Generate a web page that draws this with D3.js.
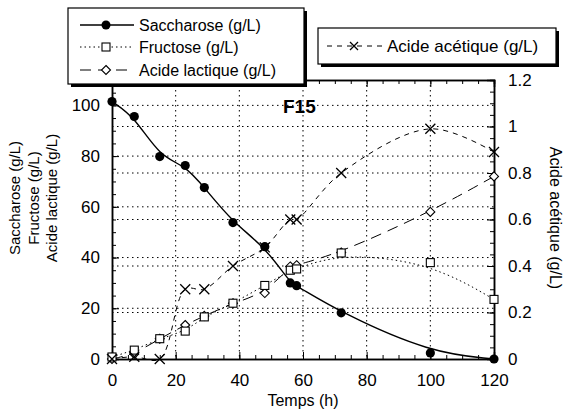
<!DOCTYPE html>
<html><head><meta charset="utf-8">
<script src="https://cdn.jsdelivr.net/npm/d3@7"></script>
<style>body{margin:0;background:#fff}svg{font-family:"Liberation Sans",Arial,sans-serif}</style>
</head><body>
<svg id="c" width="571" height="410"></svg>
<script>
const time = [0,7,15,23,29,38,48,56,58,72,100,120];
const saccharose = [101.5,95.6,79.8,76.3,67.6,53.8,44.3,30,28.9,18.2,2.4,0];
const fructose = [0.8,3.5,8,11,16.6,22,29,35,35.5,41.8,38,23.5];
const lactique = [0,2,8,13.4,17,22,26,36.5,37,42,58,72];
const acetique = [0,0.01,0,0.3,0.3,0.4,0.48,0.6,0.6,0.8,0.99,0.89];
const xTicks = [0,20,40,60,80,100,120];
const yLTicks = [0,20,40,60,80,100];
const yRTicks = [0,0.2,0.4,0.6,0.8,1,1.2];

const svg = d3.select("#c");
const L=112,R=494,T=80,B=359;
const x = d3.scaleLinear().domain([0,120]).range([L,R]);
const yL = d3.scaleLinear().domain([0,110]).range([B,T]);
const yR = d3.scaleLinear().domain([0,1.2]).range([B,T]);

// grid
const g = svg.append("g").attr("stroke","#000").attr("stroke-width",1).attr("stroke-dasharray","1.5,3.5");
xTicks.filter(d=>d>0&&d<120).forEach(d=>g.append("line").attr("x1",x(d)).attr("x2",x(d)).attr("y1",T).attr("y2",B));
yLTicks.filter(d=>d>0).forEach(d=>g.append("line").attr("x1",L).attr("x2",R).attr("y1",yL(d)).attr("y2",yL(d)));
yRTicks.filter(d=>d>0&&d<1.2).forEach(d=>g.append("line").attr("x1",L).attr("x2",R).attr("y1",yR(d)).attr("y2",yR(d)));

// axes
const fs = "17px";
svg.append("g").attr("transform",`translate(0,${B})`).call(d3.axisBottom(x).tickValues(xTicks).tickSize(-7).tickPadding(15));
svg.append("g").attr("transform",`translate(0,${B})`).call(d3.axisBottom(x).tickValues(d3.range(0,121,5)).tickSize(-4).tickFormat(""));
svg.append("g").attr("transform",`translate(0,${T})`).call(d3.axisTop(x).tickValues(xTicks).tickSize(-7).tickFormat(""));
svg.append("g").attr("transform",`translate(0,${T})`).call(d3.axisTop(x).tickValues(d3.range(0,121,5)).tickSize(-4).tickFormat(""));
svg.append("g").attr("transform",`translate(${L},0)`).call(d3.axisLeft(yL).tickValues(yLTicks).tickSize(-7).tickPadding(12));
svg.append("g").attr("transform",`translate(${L},0)`).call(d3.axisLeft(yL).tickValues(d3.range(0,111,5)).tickSize(-4).tickFormat(""));
svg.append("g").attr("transform",`translate(${R},0)`).call(d3.axisRight(yR).tickValues(yRTicks).tickSize(-7).tickPadding(14).tickFormat(d=>d3.format("")(+d.toFixed(1))));
svg.append("g").attr("transform",`translate(${R},0)`).call(d3.axisRight(yR).tickValues(d3.range(0,1.21,0.05)).tickSize(-4).tickFormat(""));
svg.selectAll(".tick text").attr("font-size",fs).attr("font-family","Liberation Sans, Arial, sans-serif").attr("fill","#000");
svg.selectAll(".domain").attr("stroke","#000").attr("stroke-width",1.5);
svg.selectAll(".tick line").attr("stroke","#000");

// lines
function series(vals, sc){ return time.map((t,i)=>[x(t), sc(vals[i])]); }
const smooth = d3.line().curve(d3.curveBasis);
const thru = d3.line().curve(d3.curveCatmullRom.alpha(0.5));
svg.append("path").attr("d",thru(series(acetique,yR))).attr("fill","none").attr("stroke","#000").attr("stroke-width",1).attr("stroke-dasharray","5,5");
svg.append("path").attr("d",smooth(series(lactique,yL))).attr("fill","none").attr("stroke","#000").attr("stroke-width",1).attr("stroke-dasharray","11,7");
svg.append("path").attr("d",smooth(series(fructose,yL))).attr("fill","none").attr("stroke","#000").attr("stroke-width",1).attr("stroke-dasharray","1.5,3");
svg.append("path").attr("d",smooth(series(saccharose,yL))).attr("fill","none").attr("stroke","#000").attr("stroke-width",1.4);

// markers
function cross(sel,px,py,s){ sel.append("path").attr("d",`M${px-s},${py-s}L${px+s},${py+s}M${px-s},${py+s}L${px+s},${py-s}`).attr("stroke","#000").attr("stroke-width",1.3).attr("fill","none"); }
function square(sel,px,py,s){ sel.append("rect").attr("x",px-s).attr("y",py-s).attr("width",2*s).attr("height",2*s).attr("fill","#fff").attr("stroke","#000").attr("stroke-width",1.1); }
function diamond(sel,px,py,s){ sel.append("path").attr("d",`M${px},${py-s}L${px+s},${py}L${px},${py+s}L${px-s},${py}Z`).attr("fill","#fff").attr("stroke","#000").attr("stroke-width",1.1); }
const m = svg.append("g");
series(lactique,yL).forEach(p=>diamond(m,p[0],p[1],4.5));
series(fructose,yL).forEach(p=>square(m,p[0],p[1],4));
series(acetique,yR).forEach(p=>cross(m,p[0],p[1],5));
series(saccharose,yL).forEach(p=>m.append("circle").attr("cx",p[0]).attr("cy",p[1]).attr("r",4.6).attr("fill","#000"));

// title
svg.append("text").attr("x",283).attr("y",113).attr("font-size","19px").attr("font-weight","bold").text("F15");

// axis titles
svg.append("text").attr("x",303).attr("y",406).attr("text-anchor","middle").attr("font-size","16px").text("Temps (h)");
const yl = svg.append("text").attr("transform","translate(0,198) rotate(-90)").attr("text-anchor","middle").attr("font-size","15px");
["Saccharose (g/L)","Fructose (g/L)","Acide lactique (g/L)"].forEach((t,i)=>yl.append("tspan").attr("x",0).attr("y",20+i*18.5).text(t));
svg.append("text").attr("transform","translate(550,218) rotate(90)").attr("text-anchor","middle").attr("font-size","16px").text("Acide acétique (g/L)");

// legends
function box(x0,y0,w,h){
  svg.append("rect").attr("x",x0+3).attr("y",y0+3).attr("width",w).attr("height",h).attr("fill","#000");
  svg.append("rect").attr("x",x0).attr("y",y0).attr("width",w).attr("height",h).attr("fill","#fff").attr("stroke","#000").attr("stroke-width",1.2);
}
box(68,8,236,76);
const lg = svg.append("g");
const leg = [["Saccharose (g/L)",25,"none","1.4"],["Fructose (g/L)",47,"1.5,3","1"],["Acide lactique (g/L)",70,"11,7","1"]];
leg.forEach((d,i)=>{
  lg.append("line").attr("x1",80).attr("x2",134).attr("y1",d[1]).attr("y2",d[1]).attr("stroke","#000").attr("stroke-width",d[3]).attr("stroke-dasharray",d[2]==="none"?null:d[2]);
  if(i===0) lg.append("circle").attr("cx",106).attr("cy",d[1]).attr("r",4.5).attr("fill","#000");
  if(i===1) square(lg,106,d[1],4);
  if(i===2) diamond(lg,106,d[1],4.5);
  lg.append("text").attr("x",139).attr("y",d[1]+6).attr("font-size","16px").text(d[0]);
});
box(318,28,238,36);
svg.append("line").attr("x1",327).attr("x2",382).attr("y1",46).attr("y2",46).attr("stroke","#000").attr("stroke-dasharray","5,5");
cross(svg,354,46,4);
svg.append("text").attr("x",387).attr("y",52).attr("font-size","17px").text("Acide acétique (g/L)");
</script>
</body></html>
